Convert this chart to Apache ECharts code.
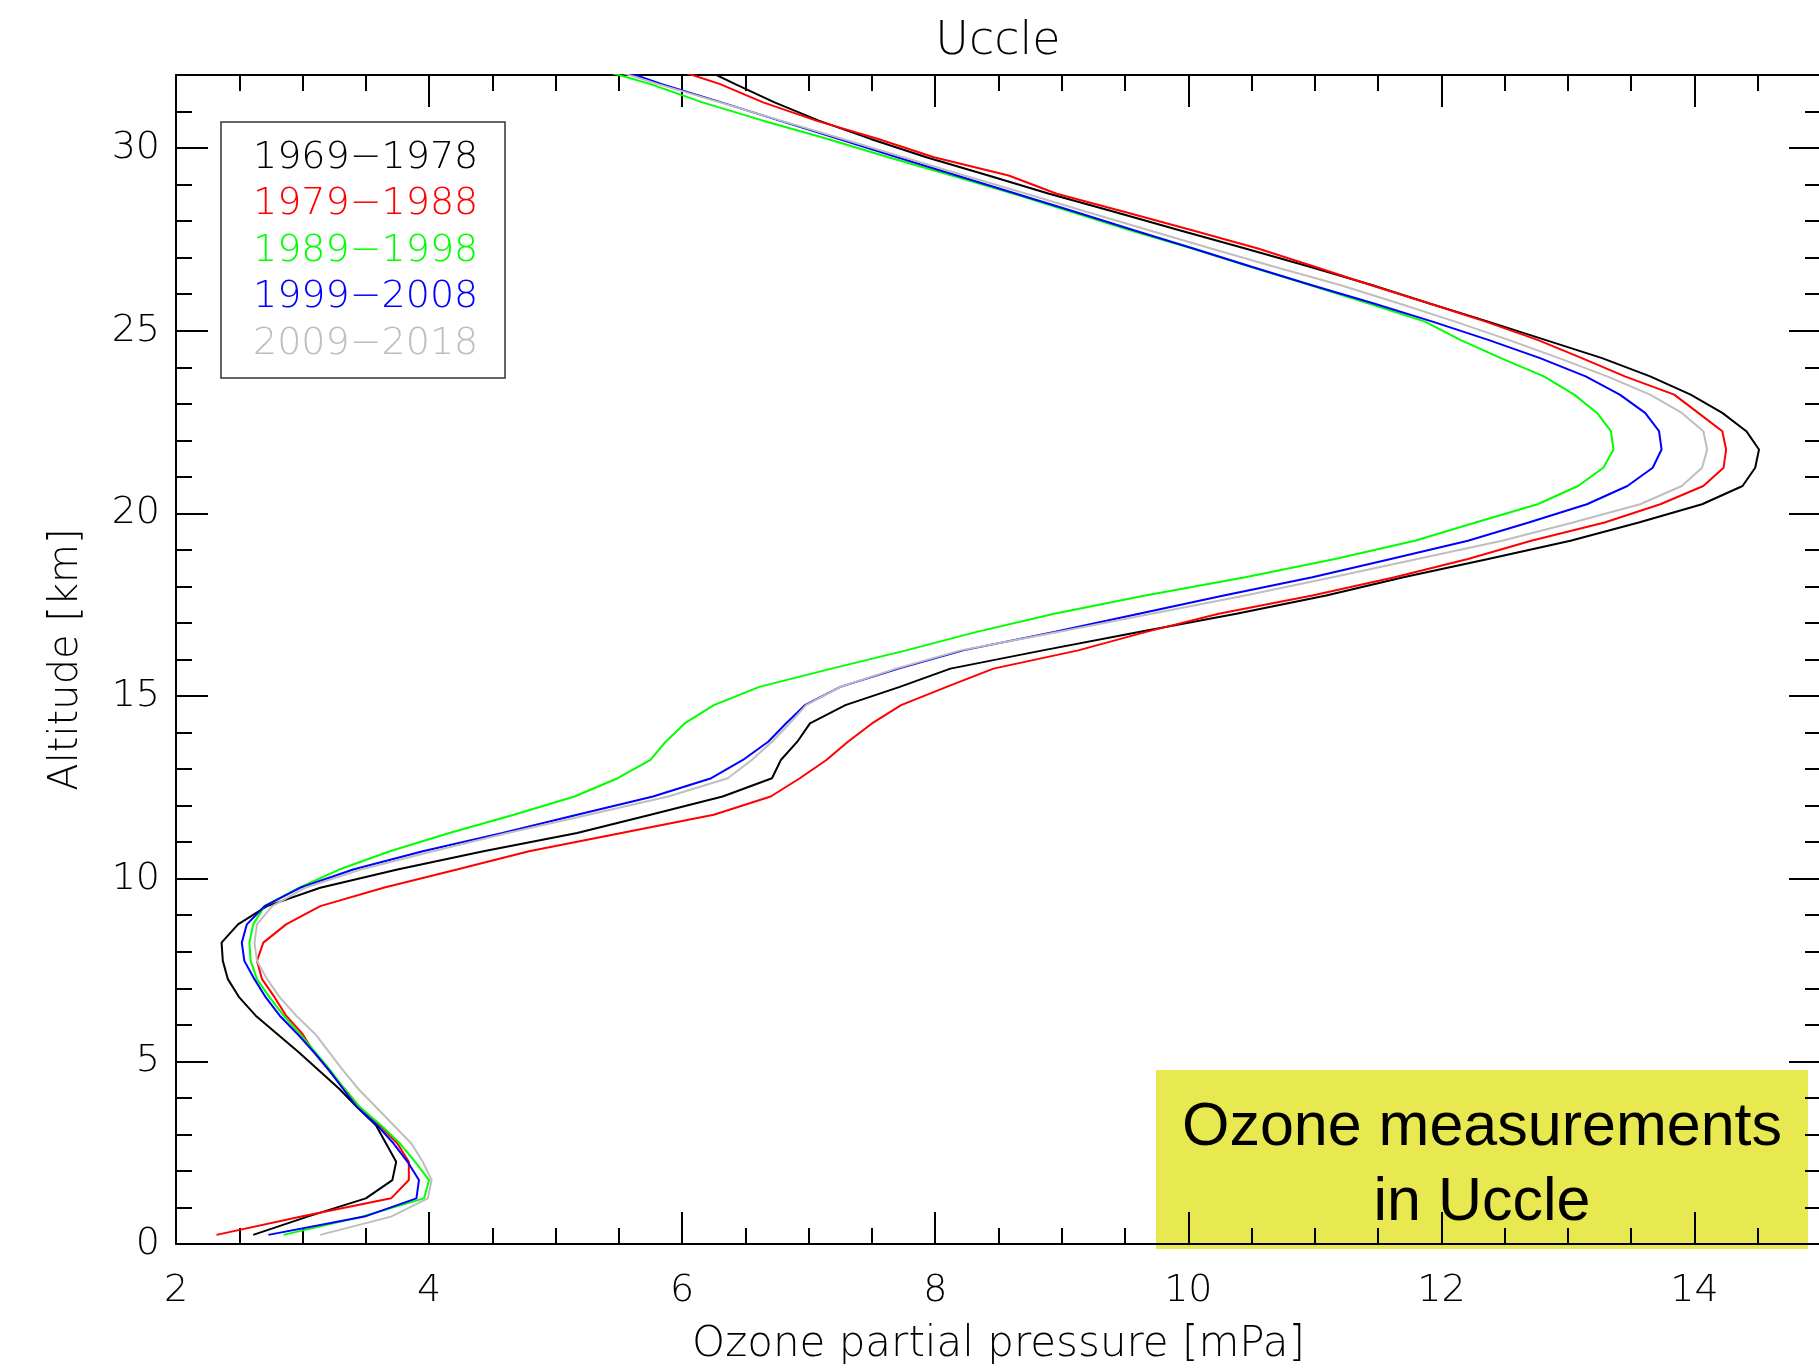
<!DOCTYPE html>
<html>
<head>
<meta charset="utf-8">
<title>Uccle ozone profiles</title>
<script src="https://cdn.jsdelivr.net/npm/echarts@6/dist/echarts.min.js"></script>
<style>
	html, body { margin: 0; padding: 0; background: #fff; }
	#chart { width: 1819px; height: 1369px; }
</style>
</head>
<body>
<div id="chart"></div>
<script>
// altitude of each profile point [km]
const altitude = [
	0.25, 0.75, 1.25, 1.75, 2.25, 2.75, 3.25, 3.75, 4.25, 4.75,
	5.25, 5.75, 6.25, 6.75, 7.25, 7.75, 8.25, 8.75, 9.25, 9.75,
	10.25, 10.75, 11.25, 11.75, 12.25, 12.75, 13.25, 13.75, 14.25, 14.75,
	15.25, 15.75, 16.25, 16.75, 17.25, 17.75, 18.25, 18.75, 19.25, 19.75,
	20.25, 20.75, 21.25, 21.75, 22.25, 22.75, 23.25, 23.75, 24.25, 24.75,
	25.25, 25.75, 26.25, 26.75, 27.25, 27.75, 28.25, 28.75, 29.25, 29.75,
	30.25, 30.75, 31.25, 31.75, 32.25
];

// ozone partial pressure [mPa], one array per decade
const ozone1969 = [
	2.61, 3.04, 3.50, 3.71, 3.74, 3.66, 3.58, 3.43, 3.29, 3.13,
	2.97, 2.80, 2.63, 2.50, 2.41, 2.37, 2.36, 2.49, 2.72, 3.14,
	3.75, 4.43, 5.17, 5.75, 6.32, 6.71, 6.78, 6.91, 7.01, 7.29,
	7.72, 8.12, 8.85, 9.61, 10.38, 11.09, 11.70, 12.37, 13.02, 13.56,
	14.06, 14.38, 14.48, 14.51, 14.41, 14.22, 13.97, 13.65, 13.27, 12.82,
	12.37, 11.90, 11.45, 10.96, 10.45, 9.93, 9.42, 8.90, 8.42, 7.93,
	7.49, 7.08, 6.73, 6.42, 6.12
];
const ozone1979 = [
	2.32, 2.99, 3.70, 3.84, 3.84, 3.75, 3.61, 3.45, 3.33, 3.21,
	3.09, 3.00, 2.87, 2.78, 2.68, 2.64, 2.69, 2.87, 3.14, 3.64,
	4.22, 4.79, 5.52, 6.25, 6.70, 6.93, 7.14, 7.31, 7.50, 7.73,
	8.09, 8.46, 9.13, 9.66, 10.24, 10.98, 11.63, 12.21, 12.71, 13.29,
	13.73, 14.07, 14.23, 14.25, 14.22, 14.03, 13.84, 13.45, 13.11, 12.76,
	12.35, 11.90, 11.44, 11.00, 10.55, 10.03, 9.50, 8.96, 8.58, 7.99,
	7.55, 7.06, 6.64, 6.30, 5.86
];
const ozone1989 = [
	2.85, 3.47, 3.96, 4.00, 3.89, 3.77, 3.62, 3.45, 3.33, 3.22,
	3.10, 2.98, 2.85, 2.74, 2.64, 2.59, 2.58, 2.61, 2.70, 2.97,
	3.29, 3.69, 4.16, 4.67, 5.15, 5.49, 5.75, 5.87, 6.02, 6.25,
	6.61, 7.18, 7.77, 8.32, 8.94, 9.66, 10.45, 11.16, 11.79, 12.27,
	12.76, 13.08, 13.28, 13.36, 13.34, 13.23, 13.05, 12.81, 12.47, 12.15,
	11.87, 11.42, 10.96, 10.49, 10.03, 9.54, 9.08, 8.62, 8.13, 7.63,
	7.15, 6.64, 6.16, 5.75, 5.25
];
const ozone1999 = [
	2.73, 3.49, 3.90, 3.92, 3.83, 3.72, 3.59, 3.43, 3.32, 3.21,
	3.09, 2.96, 2.82, 2.71, 2.62, 2.54, 2.52, 2.56, 2.70, 2.98,
	3.40, 3.95, 4.58, 5.17, 5.77, 6.23, 6.48, 6.68, 6.82, 6.97,
	7.25, 7.71, 8.22, 8.94, 9.61, 10.28, 10.98, 11.60, 12.21, 12.69,
	13.15, 13.47, 13.67, 13.74, 13.72, 13.61, 13.41, 13.14, 12.78, 12.37,
	11.93, 11.46, 10.97, 10.50, 10.04, 9.57, 9.11, 8.64, 8.17, 7.70,
	7.24, 6.77, 6.31, 5.84, 5.42
];
const ozone2009 = [
	3.14, 3.70, 3.99, 4.02, 3.95, 3.86, 3.72, 3.58, 3.44, 3.32,
	3.21, 3.10, 2.95, 2.82, 2.72, 2.64, 2.62, 2.64, 2.76, 3.02,
	3.46, 4.03, 4.62, 5.26, 5.89, 6.36, 6.55, 6.71, 6.85, 6.98,
	7.25, 7.69, 8.20, 8.97, 9.71, 10.45, 11.14, 11.81, 12.48, 13.04,
	13.57, 13.90, 14.06, 14.10, 14.07, 13.90, 13.65, 13.31, 12.93, 12.53,
	12.11, 11.66, 11.20, 10.68, 10.18, 9.69, 9.20, 8.72, 8.23, 7.75,
	7.27, 6.78, 6.30, 5.81, 5.35
];

const decades = ["1969−1978", "1979−1988", "1989−1998", "1999−2008", "2009−2018"];
const profiles = [ozone1969, ozone1979, ozone1989, ozone1999, ozone2009];
const colors = ["#000000", "#ff0000", "#00ff00", "#0000ff", "#bebebe"];

const font = "'DejaVu Sans', sans-serif";

let chart = echarts.init(document.getElementById("chart"), null, { renderer: "canvas" });

// IDL style frame: inward major and minor ticks on all four sides
function frameAxis(position, min, max, interval, tickLen, withLine) {
	return {
		type: "value",
		position: position,
		min: min,
		max: max,
		interval: interval,
		axisLine: { show: withLine, onZero: false, lineStyle: { color: "#000", width: 2 } },
		axisTick: { show: true, inside: true, length: tickLen, lineStyle: { color: "#000", width: 2 } },
		axisLabel: { show: false },
		splitLine: { show: false }
	};
}

let xMain = frameAxis("bottom", 2, 15, 2, 32, true);
xMain.axisLabel = {
	show: true, margin: 28, fontSize: 38, color: "#000",
	fontFamily: font, fontWeight: 200, showMaxLabel: false
};
xMain.name = "Ozone partial pressure [mPa]";
xMain.nameLocation = "middle";
xMain.nameGap = 80;
xMain.nameTextStyle = { fontSize: 42, color: "#000", fontFamily: font, fontWeight: 200 };

let yMain = frameAxis("left", 0, 32, 5, 32, true);
yMain.axisLabel = {
	show: true, margin: 16, fontSize: 38, color: "#000",
	fontFamily: font, fontWeight: 200, showMaxLabel: false
};
yMain.name = "Altitude [km]";
yMain.nameLocation = "middle";
yMain.nameGap = 89;
yMain.nameTextStyle = { fontSize: 40, color: "#000", fontFamily: font, fontWeight: 200 };

let option = {
	animation: false,
	backgroundColor: "#fff",
	title: {
		text: "Uccle",
		left: 993,
		top: 14,
		textAlign: "center",
		textStyle: { fontSize: 46, fontWeight: 200, color: "#000", fontFamily: font }
	},
	grid: {
		left: 176,
		top: 75,
		right: -2,
		bottom: 125,
		containLabel: false,
		outerBoundsMode: "none"
	},
	legend: {
		orient: "vertical",
		left: 248,
		top: 139,
		padding: 0,
		itemGap: 8.5,
		itemWidth: 0,
		itemHeight: 35,
		icon: "none",
		selectedMode: false,
		textStyle: { fontSize: 38, lineHeight: 35, fontFamily: font, fontWeight: 200 },
		data: decades.map(function(name, i) {
			return { name: name, textStyle: { color: colors[i] } };
		})
	},
	xAxis: [
		xMain,
		frameAxis("bottom", 2, 15, 0.5, 16, false),
		frameAxis("top", 2, 15, 2, 32, true),
		frameAxis("top", 2, 15, 0.5, 16, false)
	],
	yAxis: [
		yMain,
		frameAxis("left", 0, 32, 1, 16, false),
		frameAxis("right", 0, 32, 5, 32, true),
		frameAxis("right", 0, 32, 1, 16, false)
	],
	series: profiles.map(function(values, i) {
		return {
			name: decades[i],
			type: "line",
			xAxisIndex: 0,
			yAxisIndex: 0,
			showSymbol: false,
			symbol: "none",
			clip: true,
			color: colors[i],
			lineStyle: { color: colors[i], width: 2 },
			data: altitude.map(function(h, k) {
				return [values[k], h];
			})
		};
	}),
	graphic: [
		{
			// legend frame
			type: "rect",
			z: 50,
			shape: { x: 221, y: 122, width: 284, height: 256 },
			style: { fill: "none", stroke: "#333", lineWidth: 1.5 }
		},
		{
			type: "group",
			z: 100,
			children: [
				{
					type: "rect",
					shape: { x: 1156, y: 1070, width: 652, height: 179 },
					style: { fill: "#e8e851" }
				},
				{
					type: "text",
					style: {
						x: 1482,
						y: 1166,
						text: "Ozone measurements\nin Uccle",
						align: "center",
						verticalAlign: "middle",
						fontSize: 61,
						lineHeight: 75,
						fontFamily: "'Liberation Sans', Arial, sans-serif",
						fill: "#000"
					}
				}
			]
		}
	]
};

chart.setOption(option);
</script>
</body>
</html>
